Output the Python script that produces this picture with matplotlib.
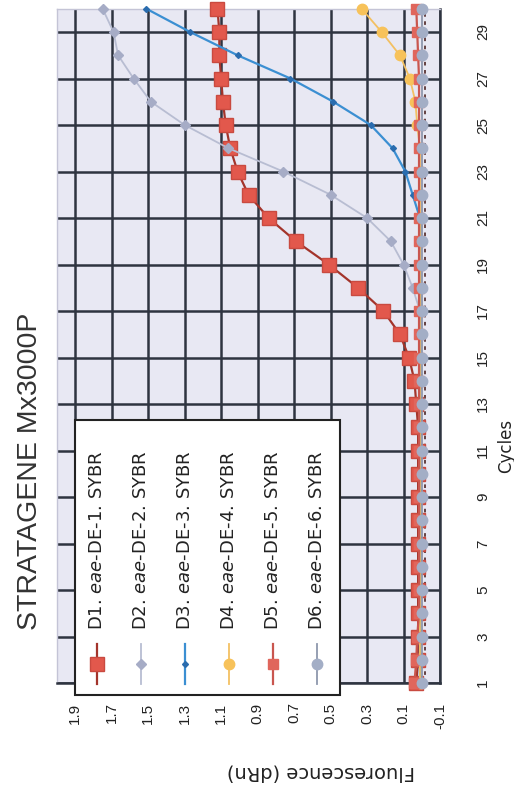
import numpy as np
import matplotlib.pyplot as plt
from matplotlib.patches import Rectangle
from matplotlib.lines import Line2D

plt.rcParams['mathtext.fontset'] = 'dejavusans'

# data
cycles = np.arange(1, 31)
d1 = [0.03, 0.02, 0.02, 0.02, 0.02, 0.02, 0.02, 0.02, 0.02, 0.02,
      0.02, 0.02, 0.03, 0.04, 0.07, 0.12, 0.21, 0.35, 0.51, 0.69,
      0.84, 0.95, 1.01, 1.05, 1.075, 1.09, 1.10, 1.11, 1.11, 1.12]
d2 = [0.01] * 17 + [0.05, 0.10, 0.17, 0.30, 0.50, 0.76, 1.06, 1.30,
                    1.485, 1.58, 1.665, 1.69, 1.75]
d3 = [0.01] * 21 + [0.05, 0.09, 0.16, 0.28, 0.485, 0.72, 1.01, 1.27, 1.51]
d4 = [0.01] * 24 + [0.025, 0.035, 0.065, 0.12, 0.22, 0.33]
d5 = [0.04, 0.03, 0.025] + [0.015] * 24 + [0.02, 0.025, 0.03]
d6 = [0.0] * 30
threshold = -0.02

labels = ['D1. $\\mathit{eae}$-DE-1. SYBR', 'D2. $\\mathit{eae}$-DE-2. SYBR',
          'D3. $\\mathit{eae}$-DE-3. SYBR', 'D4. $\\mathit{eae}$-DE-4. SYBR',
          'D5. $\\mathit{eae}$-DE-5. SYBR', 'D6. $\\mathit{eae}$-DE-6. SYBR']
fluo_ticks = [1.9, 1.7, 1.5, 1.3, 1.1, 0.9, 0.7, 0.5, 0.3, 0.1, -0.1]
cycle_ticks = list(range(1, 30, 2))

series = [d1, d2, d3, d4, d5, d6]
styles = [
    dict(color='#a3342b', marker='s', ms=9.5, mfc='#e2584c', mec='#c94a40', lw=1.6),
    dict(color='#b8bdd2', marker='D', ms=5, mfc='#a6acc6', mec='#a6acc6', lw=1.3),
    dict(color='#3b8fd2', marker='D', ms=3, mfc='#2a6cae', mec='#2a6cae', lw=1.6),
    dict(color='#f3c062', marker='o', ms=7.5, mfc='#f7c25a', mec='#f7c25a', lw=1.3),
    dict(color='#c9564f', marker='s', ms=7, mfc='#e0665c', mec='#e0665c', lw=1.6),
    dict(color='#8e97ad', marker='o', ms=7.5, mfc='#a3aec6', mec='#a3aec6', lw=1.3),
]

W, H = 514, 791
fig = plt.figure(figsize=(W / 100, H / 100), dpi=100)


def fx(px):
    return px / W


def fy(py):
    return 1 - py / H


grid_col = '#2e3440'
ax = fig.add_axes([fx(57), fy(683), fx(440) - fx(57), fy(8.75) - fy(683)])
ax.set_facecolor('#e8e8f3')
ax.set_xlim(2.0, -0.1)
ax.set_ylim(1, 30)

ax.set_xticks(fluo_ticks)
ax.set_xticklabels(['%.1f' % t for t in fluo_ticks], rotation=90,
                   fontsize=11, family='Liberation Sans', color='#222222')
ax.tick_params(axis='x', length=0, pad=14)

ax.yaxis.tick_right()
ax.set_yticks(cycle_ticks)
ax.set_yticklabels([str(c) for c in cycle_ticks], rotation=90, va='center',
                   fontsize=11, family='Liberation Sans', color='#222222')
ax.tick_params(axis='y', length=0, pad=26)

ax.set_axisbelow(True)
ax.grid(True, color=grid_col, lw=1.8)
for side in ['left', 'top']:
    ax.spines[side].set_color('#c4c4d6')
    ax.spines[side].set_linewidth(1)
for side in ['right', 'bottom']:
    ax.spines[side].set_color(grid_col)
    ax.spines[side].set_linewidth(1.8)

for i, (vals, st) in enumerate(zip(series, styles)):
    if i == 5:
        ax.axvline(threshold, color='#5a3434', lw=1.3, ls=(0, (2, 2.5)), zorder=2)
    ax.plot(vals, cycles, clip_on=False, zorder=3, **st)

# legend, drawn rotated like the rest of the chart
fig.add_artist(Rectangle((fx(75), fy(695)), fx(340) - fx(75), fy(420) - fy(695),
                         transform=fig.transFigure, facecolor='white',
                         edgecolor='#222222', lw=1.5, zorder=5))
for i, (lab, st) in enumerate(zip(labels, styles)):
    x = fx(97 + 44 * i)
    fig.add_artist(Line2D([x, x], [fy(684), fy(644)], transform=fig.transFigure,
                          color=st['color'], lw=st['lw'], zorder=6))
    fig.add_artist(Line2D([x], [fy(664)], transform=fig.transFigure, ls='none',
                          marker=st['marker'], ms=st['ms'], mfc=st['mfc'],
                          mec=st['mec'], zorder=7))
    fig.text(x, fy(630), lab, rotation=90, ha='center', va='bottom',
             fontsize=13, color='#222222', zorder=7)

fig.text(fx(30), fy(471), 'STRATAGENE Mx3000P', rotation=90, ha='center',
         va='center', fontsize=20.5, family='Liberation Sans', color='#333333')
fig.text(fx(506), fy(446), 'Cycles', rotation=90, ha='center', va='center',
         fontsize=12, color='#222222')
fig.text(fx(321), fy(772), 'Fluorescence (dRn)', rotation=180, ha='center',
         va='center', fontsize=14, color='#222222')

fig.savefig('out.png', dpi=100, facecolor='white')
